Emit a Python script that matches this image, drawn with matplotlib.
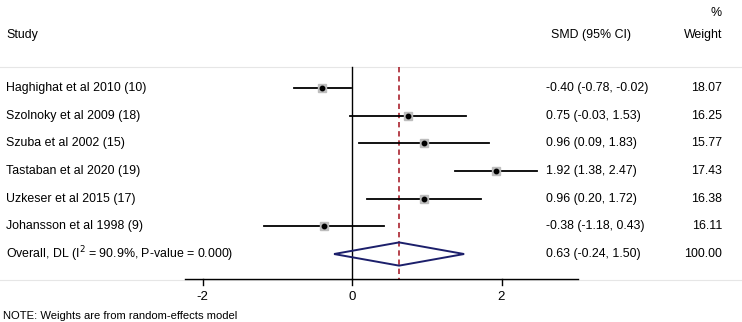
import matplotlib
matplotlib.use("Agg")
import matplotlib.pyplot as plt
from matplotlib.patches import Polygon

plt.rcParams["font.family"] = ["Liberation Sans", "DejaVu Sans"]

studies = ["Haghighat et al 2010 (10)", "Szolnoky et al 2009 (18)",
           "Szuba et al 2002 (15)", "Tastaban et al 2020 (19)",
           "Uzkeser et al 2015 (17)", "Johansson et al 1998 (9)"]
smd = [-0.40, 0.75, 0.96, 1.92, 0.96, -0.38]
lo = [-0.78, -0.03, 0.09, 1.38, 0.20, -1.18]
hi = [-0.02, 1.53, 1.83, 2.47, 1.72, 0.43]
weights = [18.07, 16.25, 15.77, 17.43, 16.38, 16.11]

overall_label = r"Overall, DL (I$^2$ = 90.9%, P-value = 0.000)"
overall = 0.63
overall_lo = -0.24
overall_hi = 1.50
overall_w = 100.00

xticks = [-2, 0, 2]

# pixel layout: x = 352 + 74.75*v, rows 27.67 px apart starting at y=88
W, H = 742, 322
px_unit = 74.75
x0 = 352
row_px = 27.67
row0 = 88

fig = plt.figure(figsize=(W / 100, H / 100), dpi=100)
ax = fig.add_axes([0, 0, 1, 1])
ax.set_xlim(-x0 / px_unit, (W - x0) / px_unit)
ax.set_ylim((H - row0) / row_px, -row0 / row_px)
ax.axis("off")

def xv(px):
    return (px - x0) / px_unit

def yv(px):
    return (px - row0) / row_px

fs = 8.9
n = len(studies)
y_top = yv(67)
y_axis = yv(279)

# faint separator lines
ax.plot([xv(0), xv(W)], [y_top, y_top], color="#e6e6e6", lw=0.8)
ax.plot([xv(0), xv(W)], [yv(280), yv(280)], color="#e6e6e6", lw=0.8)

# null line and overall line
ax.plot([0, 0], [y_top, y_axis], color="black", lw=1.0)
ax.plot([overall, overall], [y_top, y_axis], color="#a3101c", lw=1.1,
        dashes=(3.5, 2.5))

# x axis
ax.plot([xv(185), xv(578)], [y_axis, y_axis], color="black", lw=1.0)
for t in xticks:
    ax.plot([t, t], [y_axis, yv(285)], color="black", lw=1.0)
    ax.text(t, yv(297), f"{t}", ha="center", va="center", fontsize=9.5)

for i in range(n):
    ax.plot([lo[i], hi[i]], [i, i], color="black", lw=1.3, zorder=3)
    ax.plot(smd[i], i, "s", color="#bdbdbd", markersize=weights[i] / 18.07 * 6.4,
            zorder=4)
    ax.plot(smd[i], i, "o", color="black", markersize=3.2, zorder=5)
    ax.text(xv(6), i, studies[i], ha="left", va="center", fontsize=fs)
    ax.text(xv(546), i, f"{smd[i]:.2f} ({lo[i]:.2f}, {hi[i]:.2f})",
            ha="left", va="center", fontsize=fs)
    ax.text(xv(722), i, f"{weights[i]:.2f}", ha="right", va="center",
            fontsize=fs)

# overall diamond
dh = 0.42
diamond = Polygon([(overall_lo, n), (overall, n - dh), (overall_hi, n),
                   (overall, n + dh)], closed=True, fill=False,
                  edgecolor="#1c1f6b", lw=1.4, zorder=4)
ax.add_patch(diamond)
ax.text(xv(6), n, overall_label, ha="left", va="center", fontsize=fs)
ax.text(xv(546), n, f"{overall:.2f} ({overall_lo:.2f}, {overall_hi:.2f})",
        ha="left", va="center", fontsize=fs)
ax.text(xv(722), n, f"{overall_w:.2f}", ha="right", va="center", fontsize=fs)

# headers
ax.text(xv(6), yv(35), "Study", ha="left", va="center", fontsize=fs)
ax.text(xv(551), yv(35), "SMD (95% CI)", ha="left", va="center", fontsize=fs)
ax.text(xv(722), yv(35), "Weight", ha="right", va="center", fontsize=fs)
ax.text(xv(722), yv(13), "%", ha="right", va="center", fontsize=fs)

ax.text(xv(3), yv(316), "NOTE: Weights are from random-effects model",
        ha="left", va="center", fontsize=8.1)

fig.savefig("out.png", dpi=100)
